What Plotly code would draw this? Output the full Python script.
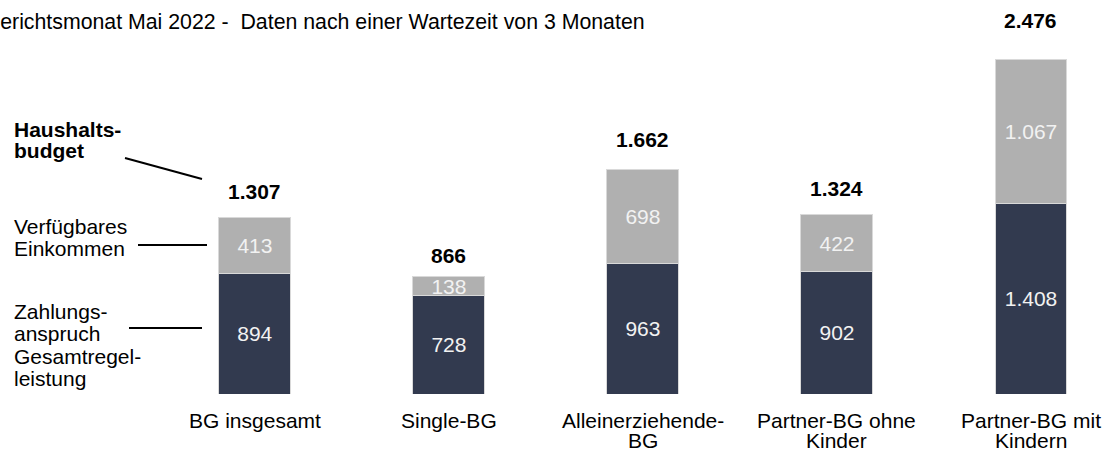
import plotly.graph_objects as go

# ---- data ----
categories = ["BG insgesamt", "Single-BG", "Alleinerziehende-BG",
              "Partner-BG ohne Kinder", "Partner-BG mit Kindern"]
category_lines = [["BG insgesamt"], ["Single-BG"], ["Alleinerziehende-", "BG"],
                  ["Partner-BG ohne", "Kinder"], ["Partner-BG mit", "Kindern"]]
zahlungsanspruch = [894, 728, 963, 902, 1408]
verfuegbar = [413, 138, 698, 422, 1067]
haushaltsbudget = [1307, 866, 1662, 1324, 2476]

subtitle = "Berichtsmonat Mai 2022 -\u00a0 Daten nach einer Wartezeit von 3 Monaten"
legend_budget = ["Haushalts-", "budget"]
legend_verf = ["Verfügbares", "Einkommen"]
legend_zahl = ["Zahlungs-", "anspruch", "Gesamtregel-", "leistung"]

# ---- style ----
W, H = 1102, 451
PLOT_H = 394
FONT = "Liberation Sans, Arial, sans-serif"
DARK = "#323a4f"
GRAY = "#b0b0b0"
FS = 21


def px(x):
    return x / W


def py(y):
    return (PLOT_H - y) / PLOT_H


fig = go.Figure()
fig.add_trace(go.Bar(
    x=categories, y=zahlungsanspruch, name="Zahlungsanspruch",
    marker=dict(color=DARK, line=dict(color="#d9d9d9", width=1)),
    width=0.371, texttemplate="%{y:,}", textposition="inside",
    insidetextanchor="middle", constraintext="none",
    textfont=dict(family=FONT, size=FS, color="#f2f2f2"), hoverinfo="skip"))
fig.add_trace(go.Bar(
    x=categories, y=verfuegbar, name="Verfügbares Einkommen",
    marker=dict(color=GRAY, line=dict(color="#d9d9d9", width=1)),
    width=0.371, texttemplate="%{y:,}", textposition="inside",
    insidetextanchor="middle", constraintext="none",
    textfont=dict(family=FONT, size=FS, color="#f2f2f2"), hoverinfo="skip"))

annotations = []
# totals
for c, t in zip(categories, haushaltsbudget):
    annotations.append(dict(
        x=c, y=t, xref="x", yref="y", text="<b>" + f"{t:,}".replace(",", ".") + "</b>",
        showarrow=False, yanchor="middle", yshift=12 + 0.0106 * t,
        font=dict(family=FONT, size=FS, color="#000000")))
# category labels
for c, lines in zip(categories, category_lines):
    for i, ln in enumerate(lines):
        annotations.append(dict(
            x=c, y=py(420 + 20.5 * i), xref="x", yref="paper", text=ln,
            showarrow=False, xanchor="center", yanchor="middle",
            font=dict(family=FONT, size=FS, color="#000000")))
# left legend labels
for i, ln in enumerate(legend_budget):
    annotations.append(dict(x=px(12), y=py(129 + 21 * i), xref="paper", yref="paper",
                            text="<b>" + ln + "</b>", showarrow=False,
                            xanchor="left", yanchor="middle",
                            font=dict(family=FONT, size=FS, color="#000000")))
for i, ln in enumerate(legend_verf):
    annotations.append(dict(x=px(12), y=py(226 + 23 * i), xref="paper", yref="paper",
                            text=ln, showarrow=False, xanchor="left", yanchor="middle",
                            font=dict(family=FONT, size=FS, color="#000000")))
for i, ln in enumerate(legend_zahl):
    annotations.append(dict(x=px(12), y=py(311 + 22.5 * i), xref="paper", yref="paper",
                            text=ln, showarrow=False, xanchor="left", yanchor="middle",
                            font=dict(family=FONT, size=FS, color="#000000")))
# subtitle
annotations.append(dict(x=px(-16), y=py(22), xref="paper", yref="paper",
                        text=subtitle, showarrow=False, xanchor="left", yanchor="middle",
                        font=dict(family=FONT, size=21.3, color="#000000")))

shapes = [
    dict(type="line", xref="paper", yref="paper", x0=px(125), y0=py(158), x1=px(202), y1=py(179),
         line=dict(color="#000000", width=2)),
    dict(type="line", xref="paper", yref="paper", x0=px(138), y0=py(245), x1=px(207), y1=py(245),
         line=dict(color="#000000", width=2)),
    dict(type="line", xref="paper", yref="paper", x0=px(129), y0=py(328), x1=px(202), y1=py(328),
         line=dict(color="#000000", width=2)),
]

fig.update_layout(
    width=W, height=H, barmode="stack", separators=",.",
    margin=dict(l=0, r=0, t=0, b=H - PLOT_H),
    paper_bgcolor="white", plot_bgcolor="white", showlegend=False,
    xaxis=dict(range=[-1.314, 4.366], showticklabels=False, showgrid=False,
               zeroline=False, showline=False, ticks="", fixedrange=True),
    yaxis=dict(range=[0, PLOT_H / 0.1353], showticklabels=False, showgrid=False,
               zeroline=False, showline=False, ticks="", fixedrange=True),
    annotations=annotations, shapes=shapes,
    font=dict(family=FONT, size=FS, color="#000000"),
)

fig.write_html("out.html", config={"displayModeBar": False},
               post_script="document.body.style.margin='0px';")
